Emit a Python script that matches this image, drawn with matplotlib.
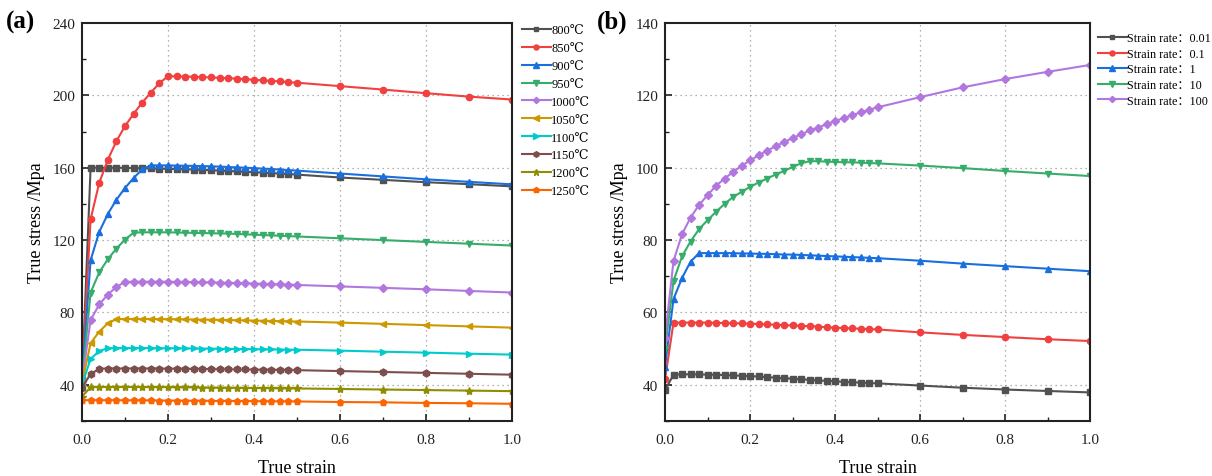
import matplotlib
matplotlib.use("Agg")
import matplotlib.pyplot as plt
from matplotlib.ticker import MultipleLocator, FixedLocator, FixedFormatter

# ---------------- data ----------------
strain = [0.00, 0.02, 0.04, 0.06, 0.08, 0.10, 0.12, 0.14, 0.16, 0.18, 0.20,
          0.22, 0.24, 0.26, 0.28, 0.30, 0.32, 0.34, 0.36, 0.38, 0.40,
          0.42, 0.44, 0.46, 0.48, 0.50, 0.6, 0.7, 0.8, 0.9, 1.0]

temp_labels = ["800℃", "850℃", "900℃", "950℃", "1000℃",
               "1050℃", "1100℃", "1150℃", "1200℃", "1250℃"]

s800 = [42, 160.0, 160.0, 160.0, 160.0, 159.9, 159.8, 159.7, 159.6, 159.5, 159.4,
        159.3, 159.2, 159.0, 158.8, 158.6, 158.4, 158.2, 158.0, 157.8, 157.5,
        157.3, 157.0, 156.8, 156.5, 156.2, 154.6, 153.3, 152.0, 150.9, 149.7]
s850 = [44, 131.5, 151.6, 164.4, 174.7, 183.0, 189.8, 196.0, 201.5, 206.7, 210.6,
        210.5, 210.4, 210.3, 210.1, 209.9, 209.7, 209.5, 209.2, 208.9, 208.6,
        208.3, 208.0, 207.7, 207.3, 207.0, 205.1, 203.2, 201.2, 199.3, 197.7]
s900 = [43, 108.9, 124.5, 134.4, 142.3, 148.8, 154.3, 159.1, 161.3, 161.3, 161.3,
        161.2, 161.1, 161.0, 160.9, 160.8, 160.6, 160.4, 160.2, 160.0, 159.8,
        159.5, 159.3, 159.0, 158.7, 158.4, 156.8, 155.2, 153.6, 152.2, 150.8]
s950 = [42, 91.0, 102.1, 109.4, 115.3, 120.3, 124.1, 124.3, 124.3, 124.3, 124.3,
        124.2, 124.1, 124.0, 123.9, 123.8, 123.7, 123.6, 123.4, 123.2, 123.0,
        122.8, 122.6, 122.4, 122.2, 122.0, 121.0, 120.0, 119.0, 118.0, 117.0]
s1000 = [42, 75.8, 84.4, 89.9, 94.1, 96.9, 97.0, 97.0, 97.0, 97.0, 97.0,
         96.9, 96.9, 96.8, 96.7, 96.6, 96.5, 96.4, 96.3, 96.1, 96.0,
         95.8, 95.7, 95.5, 95.4, 95.2, 94.4, 93.6, 92.8, 91.9, 91.0]
s1050 = [41, 63.0, 69.4, 74.0, 76.3, 76.4, 76.4, 76.4, 76.4, 76.3, 76.3,
         76.2, 76.2, 76.1, 76.0, 76.0, 75.9, 75.8, 75.7, 75.6, 75.5,
         75.4, 75.3, 75.2, 75.1, 75.0, 74.4, 73.7, 73.0, 72.3, 71.6]
s1100 = [40, 54.3, 58.7, 60.2, 60.3, 60.3, 60.3, 60.3, 60.3, 60.2, 60.2,
         60.2, 60.1, 60.1, 60.0, 60.0, 59.9, 59.9, 59.8, 59.8, 59.7,
         59.6, 59.6, 59.5, 59.4, 59.4, 58.9, 58.3, 57.8, 57.2, 56.7]
s1150 = [38.5, 46.0, 48.8, 49.0, 49.0, 49.0, 49.0, 49.0, 49.0, 48.9, 48.9,
         48.9, 48.8, 48.8, 48.7, 48.7, 48.6, 48.6, 48.5, 48.5, 48.4,
         48.3, 48.3, 48.2, 48.1, 48.1, 47.6, 47.1, 46.6, 46.1, 45.6]
s1200 = [33.5, 38.7, 38.8, 38.8, 38.8, 38.8, 38.8, 38.8, 38.7, 38.7, 38.7,
         38.6, 38.6, 38.6, 38.5, 38.5, 38.4, 38.4, 38.3, 38.3, 38.2,
         38.2, 38.1, 38.1, 38.0, 38.0, 37.7, 37.4, 37.1, 36.8, 36.5]
s1250 = [31.5, 31.5, 31.5, 31.5, 31.5, 31.4, 31.4, 31.4, 31.4, 31.3, 31.3,
         31.3, 31.2, 31.2, 31.2, 31.1, 31.1, 31.1, 31.0, 31.0, 31.0,
         30.9, 30.9, 30.8, 30.8, 30.8, 30.5, 30.3, 30.0, 29.8, 29.5]

rate_labels = ["Strain rate：0.01", "Strain rate：0.1", "Strain rate：1",
               "Strain rate：10", "Strain rate：100"]

r001 = [38.5, 42.8, 42.9, 42.9, 42.9, 42.8, 42.8, 42.7, 42.6, 42.5, 42.4,
        42.3, 42.1, 42.0, 41.8, 41.7, 41.5, 41.4, 41.2, 41.1, 41.0,
        40.8, 40.7, 40.6, 40.5, 40.4, 39.8, 39.2, 38.7, 38.3, 37.9]
r01 = [41.5, 57.2, 57.2, 57.2, 57.2, 57.2, 57.1, 57.1, 57.0, 57.0, 56.9,
       56.8, 56.7, 56.6, 56.5, 56.4, 56.3, 56.2, 56.1, 55.9, 55.8,
       55.7, 55.6, 55.5, 55.4, 55.3, 54.5, 53.8, 53.2, 52.6, 52.1]
r1 = [45.0, 63.7, 69.5, 74.0, 76.4, 76.4, 76.4, 76.4, 76.4, 76.3, 76.3,
      76.2, 76.2, 76.1, 76.0, 76.0, 75.9, 75.8, 75.7, 75.6, 75.5,
      75.4, 75.3, 75.2, 75.1, 75.0, 74.3, 73.5, 72.8, 72.1, 71.4]
r10 = [50.0, 68.7, 75.5, 79.6, 83.0, 85.5, 87.8, 90.0, 91.9, 93.3, 94.7,
       95.9, 97.0, 98.1, 99.1, 100.2, 101.2, 101.8, 101.8, 101.7, 101.6,
       101.5, 101.5, 101.4, 101.3, 101.2, 100.6, 99.9, 99.1, 98.4, 97.7]
r100 = [53.0, 74.2, 81.6, 86.2, 89.7, 92.4, 95.0, 97.0, 98.8, 100.5, 102.0,
        103.4, 104.7, 105.9, 107.1, 108.2, 109.2, 110.3, 111.1, 112.0, 112.9,
        113.7, 114.5, 115.3, 116.0, 116.7, 119.5, 122.2, 124.5, 126.5, 128.4]

x_ticks = [0.0, 0.2, 0.4, 0.6, 0.8, 1.0]
x_ticklabels = ["0.0", "0.2", "0.4", "0.6", "0.8", "1.0"]
ya_ticks = [40, 80, 120, 160, 200, 240]
yb_ticks = [40, 60, 80, 100, 120, 140]

# ---------------- style ----------------
colors = ["#515151", "#F14040", "#1A6FDF", "#37AD6B", "#B177DE",
          "#CC9900", "#00CBCC", "#7D4E4E", "#8E8E00", "#FB6501"]
markers = ["s", "o", "^", "v", "D", "<", ">", "h", "*", "p"]
msizes = [4, 4.5, 5, 5, 4, 5, 5, 5, 6, 5]

serif = ["Liberation Serif", "DejaVu Serif", "Noto Sans CJK SC"]
plt.rcParams["font.family"] = serif

W, H = 1212, 477
fig = plt.figure(figsize=(W / 100, H / 100), dpi=100)


def px_axes(x0, x1, y0, y1):
    return fig.add_axes([x0 / W, 1 - y1 / H, (x1 - x0) / W, (y1 - y0) / H])


axa = px_axes(82, 512, 24, 422)
axb = px_axes(665, 1090, 24, 422)


def style_axes(ax, yticks, ylim, yminor):
    ax.set_xlim(0, 1.0)
    ax.set_ylim(*ylim)
    ax.xaxis.set_major_locator(FixedLocator(x_ticks))
    ax.xaxis.set_major_formatter(FixedFormatter(x_ticklabels))
    ax.xaxis.set_minor_locator(MultipleLocator(0.1))
    ax.yaxis.set_major_locator(FixedLocator(yticks))
    ax.yaxis.set_minor_locator(MultipleLocator(yminor))
    ax.tick_params(which="major", direction="in", length=5, width=1.2,
                   labelsize=11, colors="#222222")
    ax.tick_params(axis="y", which="major", pad=5)
    ax.tick_params(axis="x", which="major", pad=9)
    ax.tick_params(which="minor", direction="in", length=3, width=1.0,
                   colors="#222222")
    ax.tick_params(axis="y", which="both", left=True, right=False)
    ax.tick_params(axis="x", which="both", bottom=True, top=False)
    for sp in ax.spines.values():
        sp.set_linewidth(1.5)
        sp.set_color("#222222")
    for xv in x_ticks[1:-1]:
        ax.axvline(xv, color="#999999", lw=0.9, ls=(0, (1, 3)), zorder=0)
    for yv in yticks:
        if ylim[0] < yv < ylim[1]:
            ax.axhline(yv, color="#999999", lw=0.9, ls=(0, (1, 3)), zorder=0)
    ax.set_xlabel("True strain", fontsize=13, labelpad=9)
    ax.set_ylabel("True stress /Mpa", fontsize=13, labelpad=5)


series_a = [s800, s850, s900, s950, s1000, s1050, s1100, s1150, s1200, s1250]
for i, (ys, lab) in enumerate(zip(series_a, temp_labels)):
    axa.plot(strain, ys, color=colors[i], marker=markers[i], ms=msizes[i],
             lw=1.5, label=lab)

series_b = [r001, r01, r1, r10, r100]
for i, (ys, lab) in enumerate(zip(series_b, rate_labels)):
    axb.plot(strain, ys, color=colors[i], marker=markers[i], ms=msizes[i],
             lw=1.5, label=lab)

style_axes(axa, ya_ticks, (20, 240), 20)
style_axes(axb, yb_ticks, (30, 140), 10)

axa.legend(loc="upper left", bbox_to_anchor=(1.02, 1.0), frameon=False,
           fontsize=9, handlelength=2.3, handletextpad=0.05,
           labelspacing=0.47, borderaxespad=0, borderpad=0.1, markerscale=0.8)
axb.legend(loc="upper left", bbox_to_anchor=(1.015, 0.98), frameon=False,
           fontsize=8.7, handlelength=2.4, handletextpad=0.05,
           labelspacing=0.3, borderaxespad=0, borderpad=0.1, markerscale=0.8)

fig.text(6 / W, 1 - 22 / H, "(a)", fontsize=18, fontweight="bold",
         va="center", ha="left")
fig.text(597 / W, 1 - 22 / H, "(b)", fontsize=18, fontweight="bold",
         va="center", ha="left")

fig.savefig("out.png", dpi=100)
